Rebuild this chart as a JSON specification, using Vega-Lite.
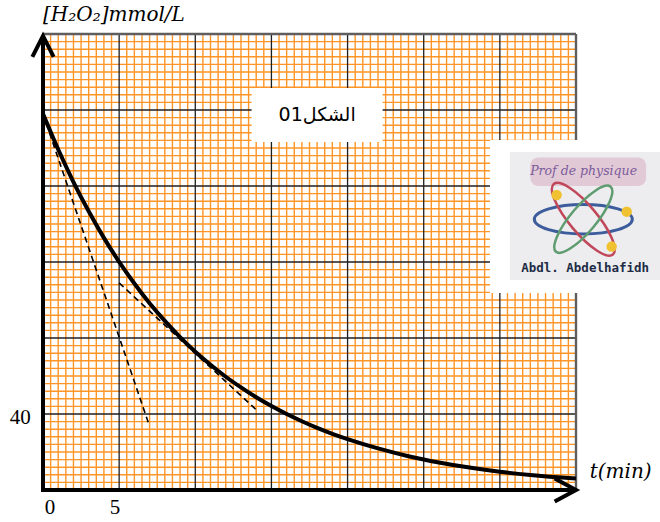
{
  "$schema": "https://vega.github.io/schema/vega-lite/v6.json",
  "width": 533,
  "height": 456,
  "autosize": {"type": "none"},
  "padding": {"left": 43, "top": 34, "right": 84, "bottom": 32},
  "background": "white",
  "config": {"view": {"stroke": null}},
  "datasets": {
    "vgrid": [
      {"v": 0.5}, {"v": 1}, {"v": 1.5}, {"v": 2}, {"v": 2.5}, {"v": 3}, {"v": 3.5}, {"v": 4}, {"v": 4.5}, {"v": 5},
      {"v": 5.5}, {"v": 6}, {"v": 6.5}, {"v": 7}, {"v": 7.5}, {"v": 8}, {"v": 8.5}, {"v": 9}, {"v": 9.5}, {"v": 10},
      {"v": 10.5}, {"v": 11}, {"v": 11.5}, {"v": 12}, {"v": 12.5}, {"v": 13}, {"v": 13.5}, {"v": 14}, {"v": 14.5}, {"v": 15},
      {"v": 15.5}, {"v": 16}, {"v": 16.5}, {"v": 17}, {"v": 17.5}, {"v": 18}, {"v": 18.5}, {"v": 19}, {"v": 19.5}, {"v": 20},
      {"v": 20.5}, {"v": 21}, {"v": 21.5}, {"v": 22}, {"v": 22.5}, {"v": 23}, {"v": 23.5}, {"v": 24}, {"v": 24.5}, {"v": 25},
      {"v": 25.5}, {"v": 26}, {"v": 26.5}, {"v": 27}, {"v": 27.5}, {"v": 28}, {"v": 28.5}, {"v": 29}, {"v": 29.5}, {"v": 30},
      {"v": 30.5}, {"v": 31}, {"v": 31.5}, {"v": 32}, {"v": 32.5}, {"v": 33}, {"v": 33.5}, {"v": 34}, {"v": 34.5}
    ],
    "hgrid": [
      {"v": 4}, {"v": 8}, {"v": 12}, {"v": 16}, {"v": 20}, {"v": 24}, {"v": 28}, {"v": 32}, {"v": 36}, {"v": 40},
      {"v": 44}, {"v": 48}, {"v": 52}, {"v": 56}, {"v": 60}, {"v": 64}, {"v": 68}, {"v": 72}, {"v": 76}, {"v": 80},
      {"v": 84}, {"v": 88}, {"v": 92}, {"v": 96}, {"v": 100}, {"v": 104}, {"v": 108}, {"v": 112}, {"v": 116}, {"v": 120},
      {"v": 124}, {"v": 128}, {"v": 132}, {"v": 136}, {"v": 140}, {"v": 144}, {"v": 148}, {"v": 152}, {"v": 156}, {"v": 160},
      {"v": 164}, {"v": 168}, {"v": 172}, {"v": 176}, {"v": 180}, {"v": 184}, {"v": 188}, {"v": 192}, {"v": 196}, {"v": 200},
      {"v": 204}, {"v": 208}, {"v": 212}, {"v": 216}, {"v": 220}, {"v": 224}, {"v": 228}, {"v": 232}, {"v": 236}
    ],
    "borders": [
      {"t": 0, "c": 240, "t2": 35, "c2": 240},
      {"t": 35, "c": 0, "t2": 35, "c2": 240}
    ],
    "curve": [
      {"t": 0, "c": 198}, {"t": 1, "c": 179.2}, {"t": 2, "c": 162.1}, {"t": 3, "c": 146.7},
      {"t": 4, "c": 132.7}, {"t": 5, "c": 120.1}, {"t": 6, "c": 108.7}, {"t": 7, "c": 98.3},
      {"t": 8, "c": 89}, {"t": 9, "c": 80.5}, {"t": 10, "c": 72.8}, {"t": 11, "c": 65.9},
      {"t": 12, "c": 59.6}, {"t": 13, "c": 54}, {"t": 14, "c": 48.8}, {"t": 15, "c": 44.2},
      {"t": 16, "c": 40}, {"t": 17, "c": 36.2}, {"t": 18, "c": 32.7}, {"t": 19, "c": 29.6},
      {"t": 20, "c": 26.8}, {"t": 22, "c": 21.9}, {"t": 24, "c": 17.8}, {"t": 26, "c": 14.5},
      {"t": 28, "c": 11.8}, {"t": 30, "c": 9.6}, {"t": 32, "c": 7.9}, {"t": 35, "c": 6.0}
    ],
    "tangents": [
      {"line": "T0", "t": 0, "c": 198}, {"line": "T0", "t": 7, "c": 33.5},
      {"line": "T10", "t": 5, "c": 109}, {"line": "T10", "t": 14.1, "c": 41.5}
    ],
    "arrows": [
      {"arrow": "y", "o": 0, "t": -0.7, "c": 228}, {"arrow": "y", "o": 1, "t": 0, "c": 239}, {"arrow": "y", "o": 2, "t": 0.7, "c": 228},
      {"arrow": "x", "o": 0, "t": 33.6, "c": 6}, {"arrow": "x", "o": 1, "t": 35, "c": 0}, {"arrow": "x", "o": 2, "t": 33.6, "c": -6}
    ],
    "axislines": [
      {"t": 0, "c": -1, "t2": 0, "c2": 238},
      {"t": -0.1, "c": 0, "t2": 34.8, "c2": 0}
    ],
    "whiteboxes": [
      {"box": "figure", "t": 13.7, "t2": 22.3, "c": 183.2, "c2": 211.6},
      {"box": "logo", "t": 29.35, "t2": 40.6, "c": 103.7, "c2": 184.2}
    ],
    "logobg": [{"t": 30.66, "t2": 40.6, "c": 110.5, "c2": 177.9}],
    "logoshadow": [{"t": 32.0, "t2": 39.6, "c": 160, "c2": 175}],
    "atom": [{"t": 35.48, "c": 142.5}],
    "electrons": [{"t": 33.73, "c": 155.3}, {"t": 38.33, "c": 146.5}, {"t": 37.34, "c": 128.1}],
    "ticklabels": [
      {"label": "0", "t": 0.46, "c": -9.5},
      {"label": "5", "t": 4.73, "c": -9.5},
      {"label": "40", "t": -1.5, "c": 37.9}
    ],
    "titles": [
      {"label": "[H₂O₂]mmol/L", "t": 0, "c": 250},
      {"label": "t(min)", "t": 35.9, "c": 9.5}
    ],
    "figlabel": [{"label": "01الشكل", "t": 18, "c": 197.4}],
    "logotop": [{"label": "Prof de physique", "t": 35.5, "c": 168}],
    "logobottom": [{"label": "Abdl. Abdelhafidh", "t": 35.6, "c": 116.8}]
  },
  "layer": [
    {
      "data": {"name": "vgrid"},
      "transform": [{"filter": "datum.v % 5 !== 0"}],
      "mark": {"type": "rule", "color": "#ff9526", "strokeWidth": 1.4},
      "encoding": {
        "x": {"field": "v", "type": "quantitative", "scale": {"domain": [0, 35], "nice": false, "zero": false}, "axis": null}
      }
    },
    {
      "data": {"name": "hgrid"},
      "transform": [{"filter": "datum.v % 40 !== 0"}],
      "mark": {"type": "rule", "color": "#ff9526", "strokeWidth": 1.4},
      "encoding": {
        "y": {"field": "v", "type": "quantitative", "scale": {"domain": [0, 240], "nice": false, "zero": false}, "axis": null}
      }
    },
    {
      "data": {"name": "vgrid"},
      "transform": [{"filter": "datum.v % 5 === 0"}],
      "mark": {"type": "rule", "color": "#1e1e1e", "strokeWidth": 1.3},
      "encoding": {
        "x": {"field": "v", "type": "quantitative", "axis": null}
      }
    },
    {
      "data": {"name": "hgrid"},
      "transform": [{"filter": "datum.v % 40 === 0"}],
      "mark": {"type": "rule", "color": "#1e1e1e", "strokeWidth": 1.3},
      "encoding": {
        "y": {"field": "v", "type": "quantitative", "axis": null}
      }
    },
    {
      "data": {"name": "borders"},
      "mark": {"type": "rule", "color": "#5e5e5e", "strokeWidth": 2.4},
      "encoding": {
        "x": {"field": "t", "type": "quantitative", "axis": null},
        "x2": {"field": "t2"},
        "y": {"field": "c", "type": "quantitative", "axis": null},
        "y2": {"field": "c2"}
      }
    },
    {
      "data": {"name": "whiteboxes"},
      "mark": {"type": "rect", "color": "white"},
      "encoding": {
        "x": {"field": "t", "type": "quantitative", "axis": null},
        "x2": {"field": "t2"},
        "y": {"field": "c", "type": "quantitative", "axis": null},
        "y2": {"field": "c2"}
      }
    },
    {
      "data": {"name": "logobg"},
      "mark": {"type": "rect", "color": "#ededf0"},
      "encoding": {
        "x": {"field": "t", "type": "quantitative", "axis": null},
        "x2": {"field": "t2"},
        "y": {"field": "c", "type": "quantitative", "axis": null},
        "y2": {"field": "c2"}
      }
    },
    {
      "data": {"name": "logoshadow"},
      "mark": {"type": "rect", "color": "#e2c9d6", "cornerRadius": 8},
      "encoding": {
        "x": {"field": "t", "type": "quantitative", "axis": null},
        "x2": {"field": "t2"},
        "y": {"field": "c", "type": "quantitative", "axis": null},
        "y2": {"field": "c2"}
      }
    },
    {
      "data": {"name": "atom"},
      "mark": {"type": "point", "shape": "M-1,0A1,0.3,0,1,0,1,0A1,0.3,0,1,0,-1,0Z", "size": 9604, "filled": false, "color": "#3c5c9c", "strokeWidth": 3, "opacity": 1},
      "encoding": {
        "x": {"field": "t", "type": "quantitative", "axis": null},
        "y": {"field": "c", "type": "quantitative", "axis": null}
      }
    },
    {
      "data": {"name": "atom"},
      "mark": {"type": "point", "shape": "M-1,0A1,0.3,0,1,0,1,0A1,0.3,0,1,0,-1,0Z", "size": 8464, "filled": false, "color": "#c0485a", "strokeWidth": 2.5, "angle": 50, "opacity": 1},
      "encoding": {
        "x": {"field": "t", "type": "quantitative", "axis": null},
        "y": {"field": "c", "type": "quantitative", "axis": null}
      }
    },
    {
      "data": {"name": "atom"},
      "mark": {"type": "point", "shape": "M-1,0A1,0.3,0,1,0,1,0A1,0.3,0,1,0,-1,0Z", "size": 7225, "filled": false, "color": "#5f9c70", "strokeWidth": 2.5, "angle": -50, "opacity": 1},
      "encoding": {
        "x": {"field": "t", "type": "quantitative", "axis": null},
        "y": {"field": "c", "type": "quantitative", "axis": null}
      }
    },
    {
      "data": {"name": "electrons"},
      "mark": {"type": "point", "shape": "circle", "size": 110, "filled": true, "color": "#f0c232", "opacity": 1},
      "encoding": {
        "x": {"field": "t", "type": "quantitative", "axis": null},
        "y": {"field": "c", "type": "quantitative", "axis": null}
      }
    },
    {
      "data": {"name": "logotop"},
      "mark": {"type": "text", "font": "DejaVu Serif", "fontStyle": "italic", "fontSize": 12.5, "color": "#7a5c9c", "align": "center", "baseline": "middle"},
      "encoding": {
        "x": {"field": "t", "type": "quantitative", "axis": null},
        "y": {"field": "c", "type": "quantitative", "axis": null},
        "text": {"field": "label"}
      }
    },
    {
      "data": {"name": "logobottom"},
      "mark": {"type": "text", "font": "DejaVu Sans Mono", "fontWeight": "bold", "fontSize": 12.5, "color": "#1d2b45", "align": "center", "baseline": "middle"},
      "encoding": {
        "x": {"field": "t", "type": "quantitative", "axis": null},
        "y": {"field": "c", "type": "quantitative", "axis": null},
        "text": {"field": "label"}
      }
    },
    {
      "data": {"name": "tangents"},
      "mark": {"type": "line", "color": "black", "strokeWidth": 1.6, "strokeDash": [6, 4]},
      "encoding": {
        "x": {"field": "t", "type": "quantitative", "axis": null},
        "y": {"field": "c", "type": "quantitative", "axis": null},
        "detail": {"field": "line"}
      }
    },
    {
      "data": {"name": "curve"},
      "mark": {"type": "line", "color": "black", "strokeWidth": 4, "interpolate": "monotone"},
      "encoding": {
        "x": {"field": "t", "type": "quantitative", "axis": null},
        "y": {"field": "c", "type": "quantitative", "axis": null}
      }
    },
    {
      "data": {"name": "axislines"},
      "mark": {"type": "rule", "color": "black", "strokeWidth": 4},
      "encoding": {
        "x": {"field": "t", "type": "quantitative", "axis": null},
        "x2": {"field": "t2"},
        "y": {"field": "c", "type": "quantitative", "axis": null},
        "y2": {"field": "c2"}
      }
    },
    {
      "data": {"name": "arrows"},
      "mark": {"type": "line", "color": "black", "strokeWidth": 4, "strokeJoin": "miter"},
      "encoding": {
        "x": {"field": "t", "type": "quantitative", "axis": null},
        "y": {"field": "c", "type": "quantitative", "axis": null},
        "detail": {"field": "arrow"},
        "order": {"field": "o"}
      }
    },
    {
      "data": {"name": "ticklabels"},
      "mark": {"type": "text", "font": "Liberation Serif", "fontSize": 21, "color": "black", "align": "center", "baseline": "middle"},
      "encoding": {
        "x": {"field": "t", "type": "quantitative", "axis": null},
        "y": {"field": "c", "type": "quantitative", "axis": null},
        "text": {"field": "label"}
      }
    },
    {
      "data": {"name": "titles"},
      "mark": {"type": "text", "font": "DejaVu Serif", "fontStyle": "italic", "fontSize": 20, "color": "black", "align": "left", "baseline": "middle"},
      "encoding": {
        "x": {"field": "t", "type": "quantitative", "axis": null},
        "y": {"field": "c", "type": "quantitative", "axis": null},
        "text": {"field": "label"}
      }
    },
    {
      "data": {"name": "figlabel"},
      "mark": {"type": "text", "font": "DejaVu Sans", "fontSize": 19, "color": "black", "align": "center", "baseline": "middle"},
      "encoding": {
        "x": {"field": "t", "type": "quantitative", "axis": null},
        "y": {"field": "c", "type": "quantitative", "axis": null},
        "text": {"field": "label"}
      }
    }
  ]
}
